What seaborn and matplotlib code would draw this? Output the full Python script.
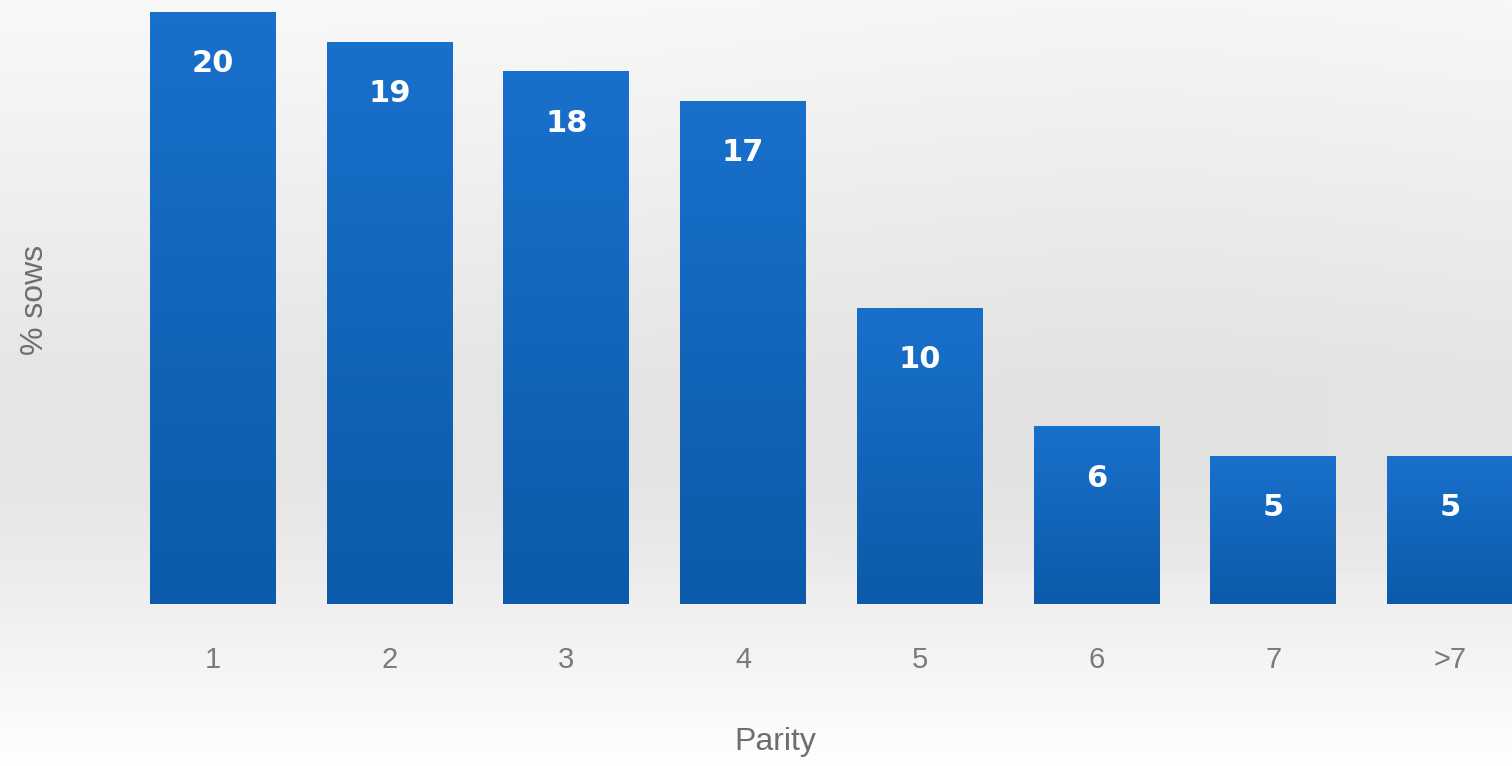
import numpy as np
import pandas as pd
import matplotlib
matplotlib.use("Agg")
import matplotlib.pyplot as plt
from matplotlib.colors import LinearSegmentedColormap
import seaborn as sns

# ---- data ----
parity = ["1", "2", "3", "4", "5", "6", "7", ">7"]
pct_sows = [20, 19, 18, 17, 10, 6, 5, 5]

sns.set_theme(style="white")
plt.rcParams["font.family"] = ["Liberation Sans", "DejaVu Sans"]

W, H, DPI = 1512, 766, 100
fig = plt.figure(figsize=(W / DPI, H / DPI), dpi=DPI)

# background gradient
bg = fig.add_axes([0, 0, 1, 1], zorder=-10)
yy = np.linspace(0, 1, 200)[:, None]
xx = np.linspace(0, 1, 300)[None, :]
top = 0.975 - 0.075 * np.clip(yy / 0.5, 0, 1)
mid = np.where(yy > 0.62, (yy - 0.62) / 0.38, 0)
val = top + (1.0 - top) * mid ** 1.2
val = val - 0.012 * np.exp(-((xx - 0.75) ** 2) / 0.08) * (yy < 0.75)
val = np.clip(val, 0, 1)
img = np.dstack([val, val, val])
bg.imshow(img, aspect="auto", extent=[0, 1, 1, 0])
bg.axis("off")

# main axes positioned to match reference
spacing = 176.7
c0 = 213.0
left_px = c0 - spacing / 2
bottom_px = 604.0
ax = fig.add_axes([left_px / W, (H - bottom_px) / H, (W - left_px) / W, bottom_px / H])
ax.patch.set_alpha(0)

df = pd.DataFrame({"Parity": parity, "pct": pct_sows})
sns.barplot(data=df, x="Parity", y="pct", color="#1467c2", width=0.713,
            saturation=1, ax=ax, edgecolor="none")

ax.set_xlim(-0.5, (W - c0) / spacing)
ax.set_ylim(0, bottom_px / 29.6)

# gradient fill on bars
cmap = LinearSegmentedColormap.from_list("bar", ["#0c5aaa", "#1970cb"])
grad = np.linspace(0, 1, 100)[:, None]
for p in ax.patches:
    x0, y0 = p.get_x(), p.get_y()
    w, h = p.get_width(), p.get_height()
    im = ax.imshow(grad, cmap=cmap, aspect="auto", origin="lower",
                   extent=[x0, x0 + w, y0, y0 + h], zorder=p.get_zorder() + 0.1)
    im.set_clip_path(p)

for i, v in enumerate(pct_sows):
    ax.text(i, v - 1.75, str(v), ha="center", va="center", color="white",
            fontsize=22, fontweight="bold", family=["DejaVu Sans"], zorder=5)

ax.set_xlim(-0.5, (W - c0) / spacing)
ax.set_ylim(0, bottom_px / 29.6)
ax.set_yticks([])
ax.tick_params(axis="x", length=0, pad=30, labelsize=21, labelcolor="#7a7a7a")
for s in ax.spines.values():
    s.set_visible(False)

ax.set_xlabel("Parity", fontsize=23, color="#6e6e6e")
ax.xaxis.set_label_coords((775 - left_px) / (W - left_px), -(742 - bottom_px) / bottom_px)
ax.xaxis.label.set_va("center")
ax.set_ylabel("")
fig.text(35 / W, 1 - 300 / H, "% sows", rotation=90, ha="center", va="center",
         fontsize=23, color="#6e6e6e")

fig.savefig("out.png", dpi=DPI)
